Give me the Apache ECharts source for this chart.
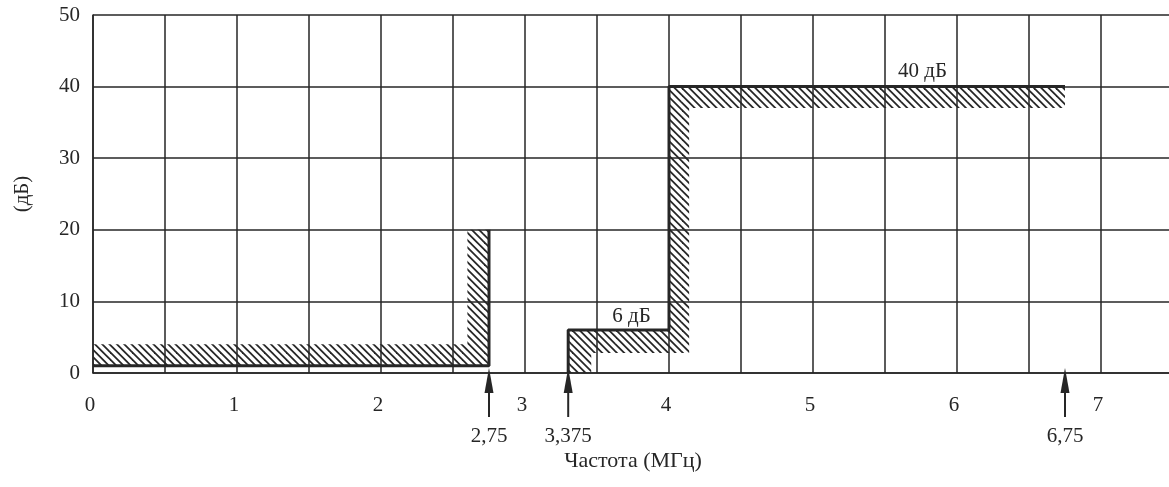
<!DOCTYPE html>
<html>
<head>
<meta charset="utf-8">
<script src="https://cdn.jsdelivr.net/npm/echarts@6/dist/echarts.min.js"></script>
<style>
  html, body { margin: 0; padding: 0; background: #fff; }
  #chart { width: 1169px; height: 487px; }
</style>
</head>
<body>
<div id="chart"></div>
<script>
// --- data ---
const yTicks = [0, 10, 20, 30, 40, 50];
const xTicks = [0, 1, 2, 3, 4, 5, 6, 7];

// mask lines (MHz, dB)
const maskLow = [[0, 1], [2.75, 1], [2.75, 20]];
const maskHigh = [[3.3, 0], [3.3, 6], [4, 6], [4, 40], [6.75, 40]];

// hatched zones
const hatchLow = [[0, 4], [2.6, 4], [2.6, 20], [2.75, 20], [2.75, 1], [0, 1]];
const hatchHigh = [[3.3, 0], [3.3, 6], [4, 6], [4, 40], [6.75, 40], [6.75, 37],
  [4.14, 37], [4.14, 2.8], [3.46, 2.8], [3.46, 0]];

// marked frequencies under the axis
const arrowX = [2.75, 3.3, 6.75];
const arrowLabels = ['2,75', '3,375', '6,75'];

// level notes
const noteLabels = ['40 дБ', '6 дБ'];
const notePos = [[5.76, 42.1], [3.74, 7.9]];

const INK = '#262626';
const FONT = '"Liberation Serif", "DejaVu Serif", serif';

// hatch pattern "\\\\"
function makeHatch() {
  const T = 22;
  const c = document.createElement('canvas');
  c.width = T; c.height = T;
  const ctx = c.getContext('2d');
  ctx.strokeStyle = INK;
  ctx.lineWidth = 1.8;
  for (let s = -T; s <= T; s += T / 3) {
    ctx.beginPath();
    ctx.moveTo(s - 2, -2);
    ctx.lineTo(s + T + 2, T + 2);
    ctx.stroke();
  }
  return { image: c, repeat: 'repeat' };
}
const hatch = makeHatch();

const polySeries = (pts) => ({
  type: 'custom',
  data: pts,
  z: 1,
  silent: true,
  renderItem: (params, api) => {
    if (params.dataIndex > 0) return;
    return {
      type: 'polygon',
      shape: { points: pts.map(p => api.coord(p)) },
      style: { fill: hatch, stroke: null }
    };
  }
});

const chart = echarts.init(document.getElementById('chart'));

chart.setOption({
  backgroundColor: '#fff',
  animation: false,
  textStyle: { fontFamily: FONT },
  grid: { left: 93, top: 15, width: 1080, height: 358, outerBoundsMode: 'none', containLabel: false },
  xAxis: {
    type: 'value',
    min: 0,
    max: 7.5,
    interval: 1,
    name: 'Частота (МГц)',
    nameLocation: 'middle',
    nameGap: 77,
    nameTextStyle: { fontSize: 22, color: INK, fontFamily: FONT },
    axisLine: { show: true, lineStyle: { color: INK, width: 1.5 } },
    axisTick: { show: false },
    axisLabel: {
      fontSize: 21, color: INK, fontFamily: FONT, margin: 22,
      padding: [0, 6, 0, 0],
      formatter: v => (xTicks.includes(v) ? String(v) : '')
    },
    splitLine: { show: true, lineStyle: { color: INK, width: 1.5 } },
    minorTick: { show: false, splitNumber: 2 },
    minorSplitLine: { show: true, lineStyle: { color: INK, width: 1.5 } }
  },
  yAxis: {
    type: 'value',
    min: 0,
    max: 50,
    interval: 10,
    name: '(дБ)',
    nameLocation: 'middle',
    nameRotate: 90,
    nameGap: 60,
    nameTextStyle: { fontSize: 21, color: INK, fontFamily: FONT },
    axisLine: { show: true, lineStyle: { color: INK, width: 1.5 } },
    axisTick: { show: false },
    axisLabel: {
      fontSize: 21, color: INK, fontFamily: FONT, margin: 13,
      formatter: v => (yTicks.includes(v) ? String(v) : '')
    },
    splitLine: { show: true, lineStyle: { color: INK, width: 1.5 } }
  },
  series: [
    polySeries(hatchLow),
    polySeries(hatchHigh),
    {
      type: 'line', data: maskLow, symbol: 'none', z: 3,
      lineStyle: { color: INK, width: 3 }
    },
    {
      type: 'line', data: maskHigh, symbol: 'none', z: 3,
      lineStyle: { color: INK, width: 3 }
    },
    {
      type: 'custom',
      data: arrowX,
      clip: false,
      z: 4,
      renderItem: (params, api) => {
        const p = api.coord([api.value(0), 0]);
        const x = p[0], y = p[1];
        return {
          type: 'group',
          children: [
            { type: 'line', shape: { x1: x, y1: y + 44, x2: x, y2: y + 16 },
              style: { stroke: INK, lineWidth: 2 } },
            { type: 'polygon', shape: { points: [[x, y - 5], [x - 4.5, y + 20], [x + 4.5, y + 20]] },
              style: { fill: INK } },
            { type: 'text', style: {
                text: arrowLabels[params.dataIndex], x: x, y: y + 63,
                align: 'center', verticalAlign: 'middle',
                font: '21px ' + FONT, fill: INK } }
          ]
        };
      }
    },
    {
      type: 'custom',
      data: notePos,
      z: 4,
      renderItem: (params, api) => {
        const p = api.coord([api.value(0), api.value(1)]);
        return {
          type: 'text',
          style: {
            text: noteLabels[params.dataIndex], x: p[0], y: p[1],
            align: 'center', verticalAlign: 'middle',
            font: '21px ' + FONT, fill: INK, backgroundColor: '#fff'
          }
        };
      }
    }
  ]
});

window.addEventListener('resize', () => chart.resize());
</script>
</body>
</html>
